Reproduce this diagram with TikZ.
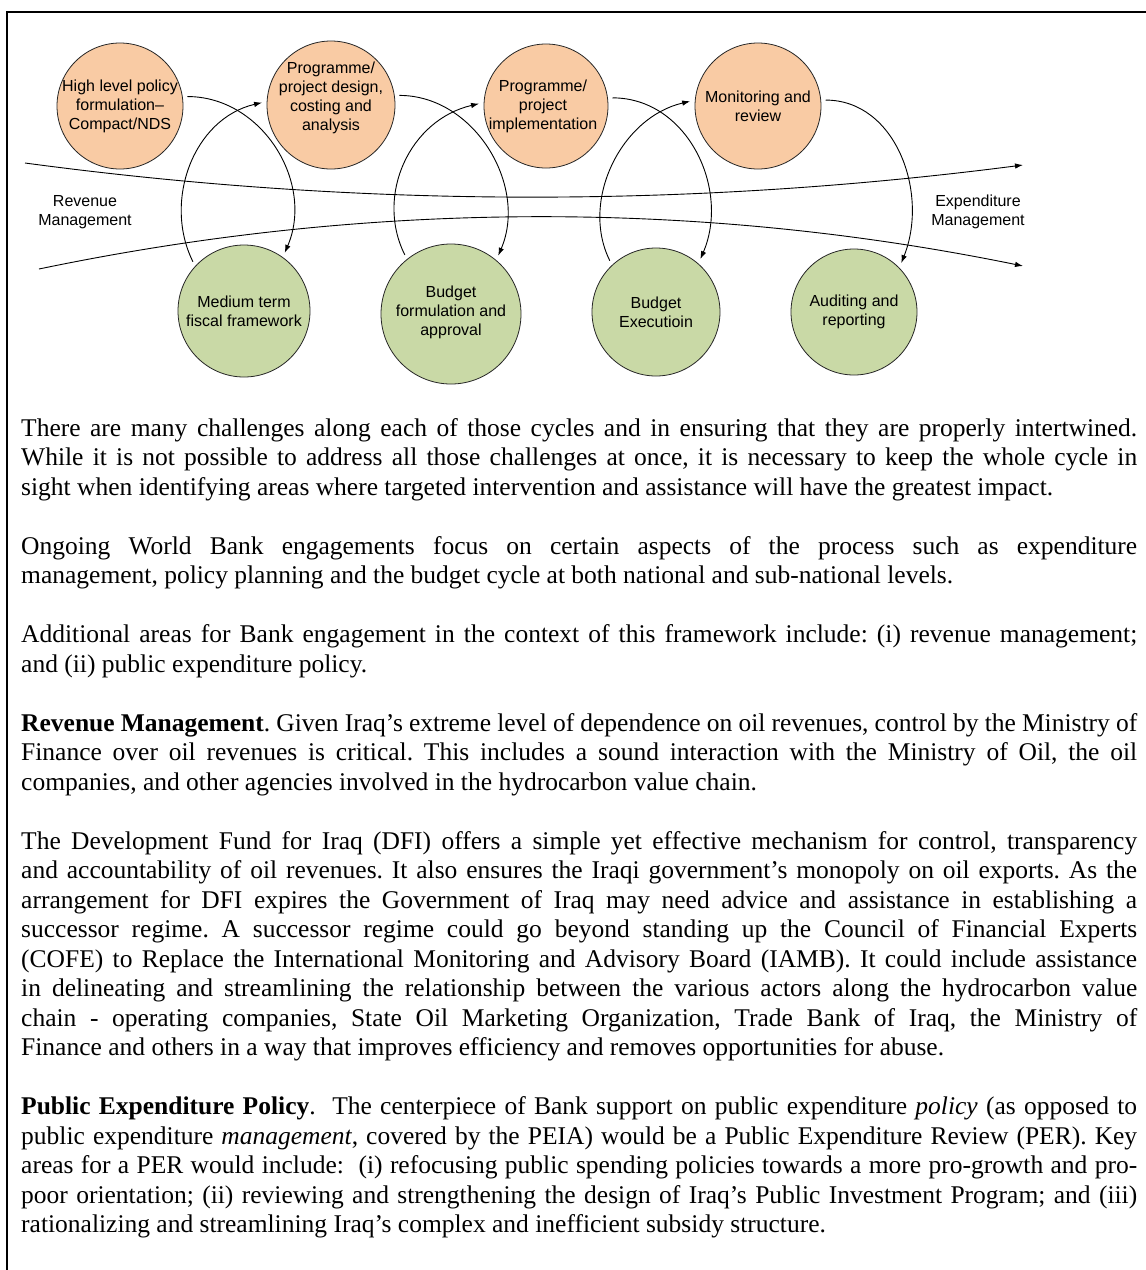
\documentclass[tikz,border=0pt]{standalone}
\usepackage{fontspec}
\setmainfont{Liberation Serif}
\newfontfamily\diagfont{Liberation Sans}
\usetikzlibrary{arrows.meta,calc}
\definecolor{peach}{HTML}{F9CBA4}
\definecolor{sage}{HTML}{C9D9A6}
\newcommand\bodysetup{\spaceskip=0pt\xspaceskip=0pt\frenchspacing}
\newcommand\fullline[1]{\makebox[1116pt][s]{\bodysetup #1}}
\begin{document}
\begin{tikzpicture}[x=1pt,y=-1pt,
  circ/.style={circle, draw=black!85, line width=0.8pt, inner sep=0pt, outer sep=5pt},
  topc/.style={circ, fill=peach},
  botc/.style={circ, fill=sage},
  lbl/.style={align=center, font=\diagfont\fontsize{16}{19}\selectfont, inner sep=0pt},
  flow/.style={line width=0.9pt, -{Latex[length=8pt,width=5.5pt]}},
  body/.style={anchor=north west, inner sep=0pt, text width=1116pt, align=left, font=\fontsize{25.5}{29.5}\selectfont},
]
\useasboundingbox (0,0) rectangle (1146,1270);
\fill[white] (0,0) rectangle (1146,1270);
\draw[line width=2pt] (1147,12) -- (7,12) -- (7,1271);

% top row
\node[topc, minimum size=126pt] (c1) at (120,106) {};
\node[topc, minimum size=128pt] (c2) at (331,105) {};
\node[topc, minimum size=124pt] (c3) at (546,106) {};
\node[topc, minimum size=126pt] (c4) at (758,106) {};
% bottom row
\node[botc, minimum size=132pt] (c5) at (244,311) {};
\node[botc, minimum size=140pt] (c6) at (451,314) {};
\node[botc, minimum size=128pt] (c7) at (656,312) {};
\node[botc, minimum size=126pt] (c8) at (854,312) {};

\node[lbl] (t1) at (c1) {High level policy\\formulation\textendash\\Compact/NDS};
\node[lbl] (t2) at ($(c2)+(0,-7.5)$) {Programme/\\project design,\\costing and\\analysis};
\node[lbl] (t3) at ($(c3)+(-3,0)$) {Programme/\\project\\implementation};
\node[lbl] (t4) at (c4) {Monitoring and\\review};
\node[lbl] (t5) at (c5) {Medium term\\fiscal framework};
\node[lbl] (t6) at ($(c6)+(0,-2)$) {Budget\\formulation and\\approval};
\node[lbl] (t7) at (c7) {Budget\\Executioin};
\node[lbl] (t8) at (c8) {Auditing and\\reporting};

% horizontal flows
\coordinate (ul) at (25,163);
\coordinate (ur) at (1023,165);
\coordinate (ll) at (39,269);
\coordinate (lr) at (1023,266);
\draw[flow] (ul) .. controls (360,208) and (690,208) .. (ur);
\draw[flow] (ll) .. controls (370,200) and (700,200) .. (lr);

\node[lbl] (rev) at (85,212) {Revenue\\Management};
\node[lbl] (exp) at (978,212) {Expenditure\\Management};

% cycle arcs
\draw[flow] (c1.8) .. controls ($(c1.8)+(75,0)$) and ($(c5.55)+(30,-70)$) .. (c5.55);
\draw[flow] (c5.136) .. controls ($(c5.136)+(-30,-60)$) and ($(c2.178)+(-69,16)$) .. (c2.178);
\draw[flow] (c2.8) .. controls ($(c2.8)+(75,0)$) and ($(c6.51)+(30,-70)$) .. (c6.51);
\draw[flow] (c6.128) .. controls ($(c6.128)+(-30,-60)$) and ($(c3.178)+(-69,16)$) .. (c3.178);
\draw[flow] (c3.7) .. controls ($(c3.7)+(75,0)$) and ($(c7.50)+(30,-70)$) .. (c7.50);
\draw[flow] (c7.132) .. controls ($(c7.132)+(-30,-60)$) and ($(c4.176)+(-69,16)$) .. (c4.176);
\draw[flow] (c4.5) .. controls ($(c4.5)+(70,0)$) and ($(c8.46)+(28,-70)$) .. (c8.46);

% body text
\node[body] (p1) at (21,415.35) {\bodysetup\strut\fullline{There are many challenges along each of those cycles and in ensuring that they are properly intertwined.}\\
\fullline{While it is not possible to address all those challenges at once, it is necessary to keep the whole cycle in}\\
sight when identifying areas where targeted intervention and assistance will have the greatest impact.};

\node[body] (p2) at (21,533.35) {\bodysetup\strut\fullline{Ongoing World Bank engagements focus on certain aspects of the process such as expenditure}\\
management, policy planning and the budget cycle at both national and sub-national levels.};

\node[body] (p3) at (21,621.85) {\bodysetup\strut\fullline{Additional areas for Bank engagement in the context of this framework include: (i) revenue management;}\\
and (ii) public expenditure policy.};

\node[body] (p4) at (21,710.35) {\bodysetup\strut\fullline{\textbf{Revenue Management}. Given Iraq's extreme level of dependence on oil revenues, control by the Ministry of}\\
\fullline{Finance over oil revenues is critical. This includes a sound interaction with the Ministry of Oil, the oil}\\
companies, and other agencies involved in the hydrocarbon value chain.};

\node[body] (p5) at (21,828.35) {\bodysetup\strut\fullline{The Development Fund for Iraq (DFI) offers a simple yet effective mechanism for control, transparency}\\
\fullline{and accountability of oil revenues. It also ensures the Iraqi government's monopoly on oil exports. As the}\\
\fullline{arrangement for DFI expires the Government of Iraq may need advice and assistance in establishing a}\\
\fullline{successor regime. A successor regime could go beyond standing up the Council of Financial Experts}\\
\fullline{(COFE) to Replace the International Monitoring and Advisory Board (IAMB). It could include assistance}\\
\fullline{in delineating and streamlining the relationship between the various actors along the hydrocarbon value}\\
\fullline{chain - operating companies, State Oil Marketing Organization, Trade Bank of Iraq, the Ministry of}\\
Finance and others in a way that improves efficiency and removes opportunities for abuse.};

\node[body] (p6) at (21,1093.85) {\bodysetup\strut\fullline{\textbf{Public Expenditure Policy}.\ \ The centerpiece of Bank support on public expenditure \textit{policy} (as opposed to}\\
\fullline{public expenditure \textit{management}, covered by the PEIA) would be a Public Expenditure Review (PER). Key}\\
\fullline{areas for a PER would include:\ \ (i) refocusing public spending policies towards a more pro-growth and pro-}\\
\fullline{poor orientation; (ii) reviewing and strengthening the design of Iraq’s Public Investment Program; and (iii)}\\
rationalizing and streamlining Iraq’s complex and inefficient subsidy structure.};
\end{tikzpicture}
\end{document}
